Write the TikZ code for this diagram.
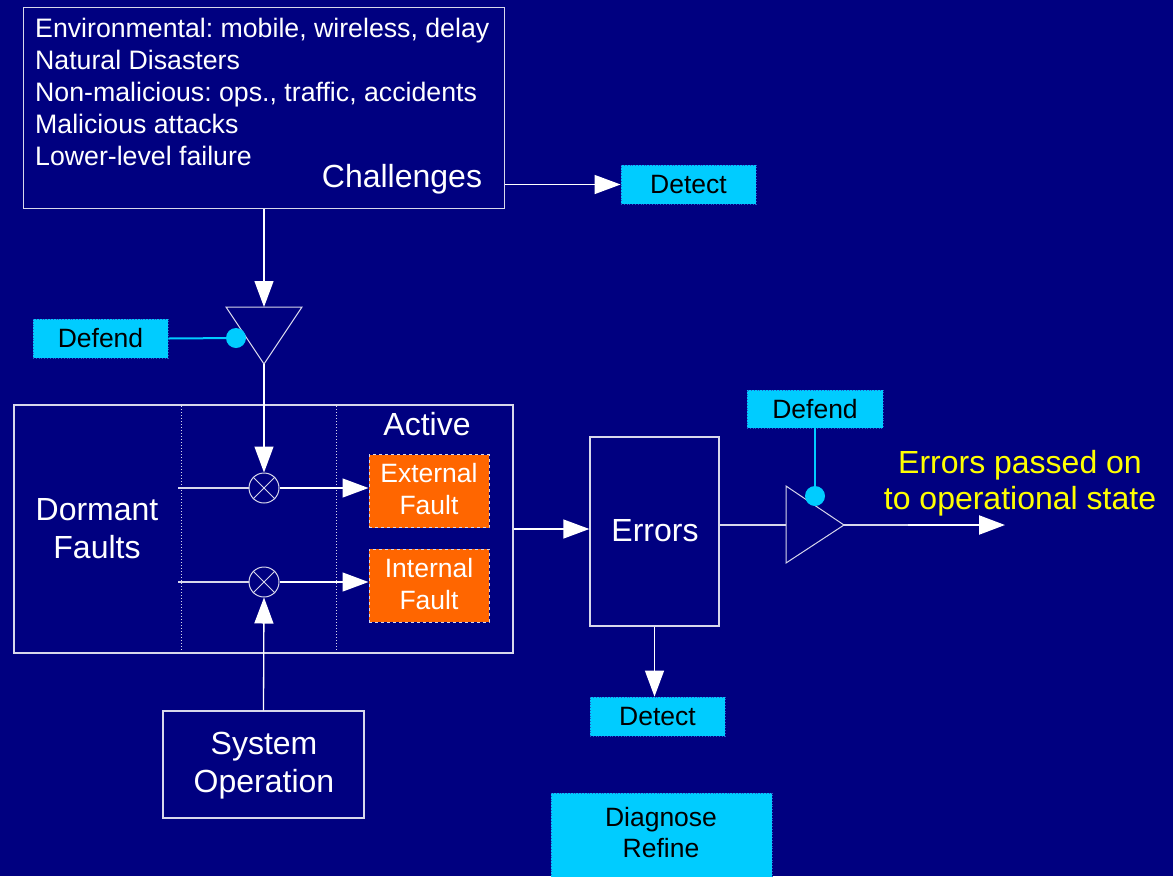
\documentclass[tikz,border=0pt]{standalone}
\usepackage{fontspec}
\setmainfont{Liberation Sans}
\usetikzlibrary{arrows.meta}
\frenchspacing
\definecolor{bgc}{RGB}{0,0,128}
\definecolor{linec}{RGB}{215,215,235}
\definecolor{cyanc}{RGB}{0,204,255}
\definecolor{dotc}{RGB}{40,90,200}
\definecolor{orangec}{RGB}{255,102,0}
\definecolor{yellowc}{RGB}{255,255,0}
\tikzset{
  outl/.style={draw=linec, line width=1.3pt},
  blk/.style={outl, inner sep=0pt},
  divl/.style={draw=linec, line width=1pt, dotted},
  cyanbox/.style={fill=cyanc, draw=dotc, dotted, line width=0.8pt, inner sep=0pt, text=black, font=\fontsize{26.5}{31}\selectfont, align=center},
  faultbox/.style={fill=orangec, draw=linec, dashed, line width=1pt, inner sep=0pt, minimum width=120pt, minimum height=73pt},
  faulttxt/.style={text=white, align=center, font=\fontsize{26.5}{32}\selectfont, inner sep=0pt},
  smalltxt/.style={text=white, font=\fontsize{26.7}{32}\selectfont, inner sep=0pt},
  bigtxt/.style={text=white, align=center, font=\fontsize{32}{38}\selectfont, inner sep=0pt},
  arr/.style={draw=white, line width=1.3pt, -{Triangle[length=26pt,width=19pt]}},
  cyl/.style={draw=cyanc, line width=2pt},
  dotn/.style={circle, fill=cyanc, inner sep=0pt, minimum size=20pt},
  mult/.style={circle, draw=linec, line width=1pt, inner sep=0pt, minimum size=30pt},
  tri/.style={draw=linec, line width=1pt},
}
\begin{document}
\begin{tikzpicture}[x=1pt,y=-1pt]
\fill[bgc] (0,0) rectangle (1173,876);
\useasboundingbox (0,0) rectangle (1173,876);
\clip (0,0) rectangle (1173,876);

% Challenges
\node[blk, minimum width=481pt, minimum height=201pt] (chal) at (264,108) {};
\node[smalltxt, anchor=base west] (ch1) at (35,37) {Environmental: mobile, wireless, delay};
\node[smalltxt, anchor=base west] (ch2) at (35,69) {Natural Disasters};
\node[smalltxt, anchor=base west] (ch3) at (35,101) {Non-malicious: ops., traffic, accidents};
\node[smalltxt, anchor=base west] (ch4) at (35,133) {Malicious attacks};
\node[smalltxt, anchor=base west] (ch5) at (35,165) {Lower-level failure};
\node[bigtxt, anchor=base] (chlab) at (402,187) {Challenges};

\node[cyanbox, minimum width=135pt, minimum height=39pt] (det1) at (688.5,184.5) {Detect};
\draw[arr] (det1.west -| chal.east) -- (det1.west);

% top triangle
\coordinate (t1a) at (226,307);
\coordinate (t1b) at (302,307);
\coordinate (t1c) at (264,364);
\coordinate (t1top) at (264,307);
\draw[tri] (t1a) -- (t1b) -- (t1c) -- cycle;
\draw[arr] (chal.south) -- (t1top);
\node[cyanbox, minimum width=135pt, minimum height=39pt] (def1) at (100.5,338.5) {Defend};
\node[dotn] (dot1) at (236,338) {};
\draw[cyl] (def1.east) -- (dot1);

% fault box
\node[blk, minimum width=499pt, minimum height=248pt] (fbox) at (263.5,529) {};
\draw[divl] (181,406) -- (181,652);
\draw[divl] (336,406) -- (336,652);
\node[bigtxt] (dorm) at (97,529) {Dormant\\Faults};
\node[bigtxt, anchor=base] (act) at (427,435) {Active};

\node[mult] (m1) at (264,488) {};
\draw[linec, line width=1pt] (m1.45) -- (m1.225) (m1.135) -- (m1.-45);
\node[mult] (m2) at (264,582) {};
\draw[linec, line width=1pt] (m2.45) -- (m2.225) (m2.135) -- (m2.-45);

\node[faultbox] (ext) at (429,491) {};
\node[faulttxt] (exttxt) at (429,489) {External\\Fault};
\node[faultbox] (int) at (429,585.5) {};
\node[faulttxt] (inttxt) at (429,584) {Internal\\Fault};

\coordinate (h1) at (178,488);
\coordinate (h2) at (178,582);
\draw[outl] (h1) -- (m1.west);
\draw[outl] (h2) -- (m2.west);
\draw[arr] (t1c) -- (m1.north);
\draw[arr] (m1.east) -- (m1.east -| ext.west);
\draw[arr] (m2.east) -- (m2.east -| int.west);

% system operation
\node[blk, minimum width=201pt, minimum height=107pt] (sysop) at (263.5,764.5) {};
\node[bigtxt] (systxt) at (264,766) {System\\Operation};
\draw[arr] (sysop.north) -- (m2.south);

% errors
\node[blk, minimum width=129pt, minimum height=189pt] (err) at (654.5,531.5) {};
\node[bigtxt, anchor=base] (errtxt) at (655,541) {Errors};
\draw[arr] (fbox.east) -- (fbox.east -| err.west);

\node[cyanbox, minimum width=135pt, minimum height=39pt] (det2) at (657.5,716.5) {Detect};
\draw[arr] (err.south) -- (err.south |- det2.north);

% right triangle
\coordinate (t2a) at (786,486);
\coordinate (t2b) at (786,563);
\coordinate (t2c) at (844,525);
\coordinate (t2l) at (786,525);
\draw[tri] (t2a) -- (t2b) -- (t2c) -- cycle;
\draw[outl] (t2l -| err.east) -- (t2l);
\node[cyanbox, minimum width=136pt, minimum height=38pt] (def2) at (815,409) {Defend};
\node[dotn] (dot2) at (815,496) {};
\draw[cyl] (def2.south) -- (dot2);

\coordinate (outmid) at (908,525);
\coordinate (outend) at (1005,525);
\draw[outl] (t2c) -- (outmid);
\draw[arr, line width=2.2pt] (outmid) -- (outend);
\node[text=yellowc, align=center, font=\fontsize{32}{36}\selectfont, inner sep=0pt] (ytxt) at (1020,483) {Errors passed on\\to operational state};

% diagnose
\node[cyanbox, minimum width=221pt, minimum height=90pt] (diag) at (661.5,838) {};
\node[text=black, align=center, font=\fontsize{26.5}{31}\selectfont, inner sep=0pt] (diagtxt) at (661,833) {Diagnose\\Refine};
\end{tikzpicture}
\end{document}
